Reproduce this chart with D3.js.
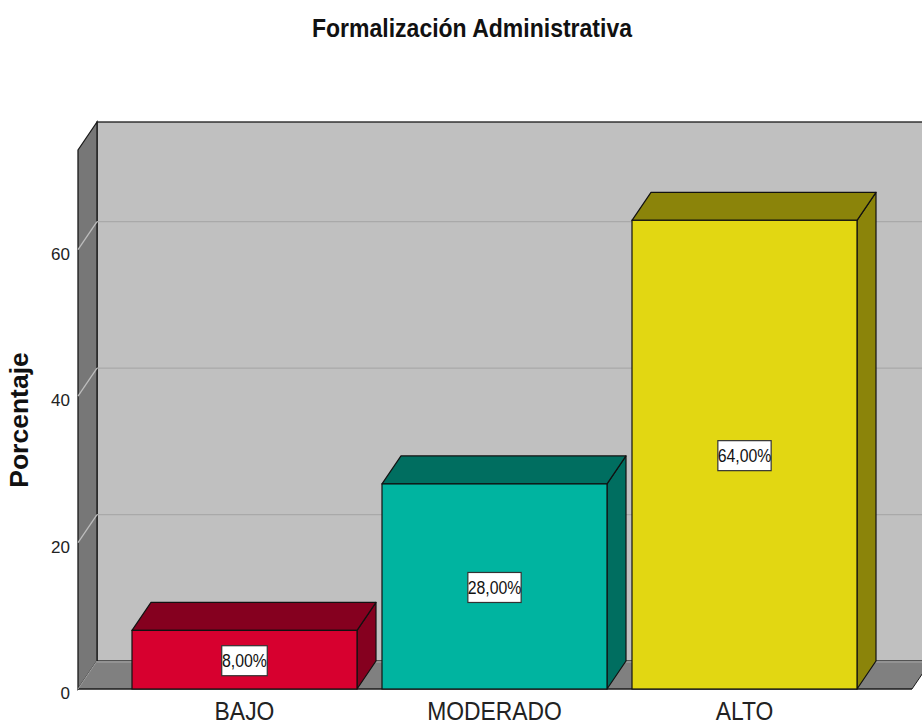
<!DOCTYPE html>
<html>
<head>
<meta charset="utf-8">
<script src="https://cdn.jsdelivr.net/npm/d3@7"></script>
<style>
  body { margin: 0; background: #fff; }
  text { font-family: "Liberation Sans", Arial, sans-serif; }
</style>
</head>
<body>
<div id="chart"></div>
<script>
var categories = ['BAJO', 'MODERADO', 'ALTO'];
var percentages = [8, 28, 64];
var valueLabels = ['8,00%', '28,00%', '64,00%'];
var tickValues = [0, 20, 40, 60];

var frontColors = ['#d7002f', '#00b4a0', '#e2d712'];
var topColors = ['#85001f', '#006e60', '#8b840a'];

var svgWidth = 922;
var svgHeight = 728;

// 3d depth offset of the back plane
var dx = 19, dy = -28;

var plotLeft = 78, plotRight = 912;
var plotTop = 150, plotBottom = 689;

var svg = d3.select('#chart')
            .append('svg')
            .attr('width', svgWidth)
            .attr('height', svgHeight);

var yScale = d3.scaleLinear()
               .domain([0, 73.6])
               .range([plotBottom, plotTop]);

var xScale = d3.scaleBand()
               .domain(categories)
               .range([107, 882])
               .padding(0.1);

// squeeze text horizontally to match the reference font width
function squeeze(sel, factor) {
    sel.each(function() {
        var len = this.getComputedTextLength();
        d3.select(this)
          .attr('textLength', len * factor)
          .attr('lengthAdjust', 'spacingAndGlyphs');
    });
}

// back wall
svg.append('rect')
   .attr('x', plotLeft + dx)
   .attr('y', plotTop + dy)
   .attr('width', plotRight - plotLeft + 10)
   .attr('height', plotBottom - plotTop)
   .attr('fill', '#c0c0c0')
   .attr('stroke', '#1a1a1a')
   .attr('stroke-width', 1.3);

// left side wall
svg.append('polygon')
   .attr('points', [[plotLeft, plotTop], [plotLeft + dx, plotTop + dy],
                    [plotLeft + dx, plotBottom + dy], [plotLeft, plotBottom]].join(' '))
   .attr('fill', '#777777')
   .attr('stroke', '#1a1a1a')
   .attr('stroke-width', 1.3);

// gridlines on back wall and side wall
tickValues.forEach(function(v) {
    if (v === 0) return;
    svg.append('line')
       .attr('x1', plotLeft + dx).attr('x2', plotRight + dx + 20)
       .attr('y1', yScale(v) + dy).attr('y2', yScale(v) + dy)
       .attr('stroke', '#a9a9a9').attr('stroke-width', 1.2);
    svg.append('line')
       .attr('x1', plotLeft).attr('x2', plotLeft + dx)
       .attr('y1', yScale(v)).attr('y2', yScale(v) + dy)
       .attr('stroke', '#bdbdbd').attr('stroke-width', 1.3);
});

// floor
svg.append('polygon')
   .attr('points', [[plotLeft, plotBottom], [plotLeft + dx, plotBottom + dy],
                    [plotRight + dx, plotBottom + dy], [plotRight, plotBottom]].join(' '))
   .attr('fill', '#808080');
svg.append('line')
   .attr('x1', plotLeft + dx).attr('x2', plotRight + dx + 20)
   .attr('y1', plotBottom + dy + 1).attr('y2', plotBottom + dy + 1)
   .attr('stroke', '#9a9a9a').attr('stroke-width', 1.5);
svg.append('line')
   .attr('x1', plotLeft).attr('x2', plotRight)
   .attr('y1', plotBottom).attr('y2', plotBottom)
   .attr('stroke', '#1a1a1a').attr('stroke-width', 1.3);
svg.append('line')
   .attr('x1', plotLeft).attr('x2', plotLeft + dx)
   .attr('y1', plotBottom).attr('y2', plotBottom + dy)
   .attr('stroke', '#a0a0a0').attr('stroke-width', 1);
svg.append('line')
   .attr('x1', plotRight).attr('x2', plotRight + dx)
   .attr('y1', plotBottom).attr('y2', plotBottom + dy)
   .attr('stroke', '#1a1a1a').attr('stroke-width', 1);

// bars
var w = xScale.bandwidth();
var bars = svg.selectAll('g.bar')
              .data(categories)
              .enter()
              .append('g')
              .attr('class', 'bar');

bars.append('polygon')
    .attr('points', function(d, i) {
        var x = xScale(d), yt = yScale(percentages[i]);
        return [[x + w, yt], [x + w + dx, yt + dy], [x + w + dx, plotBottom + dy], [x + w, plotBottom]].join(' ');
    })
    .attr('fill', (d, i) => topColors[i])
    .attr('stroke', '#111').attr('stroke-width', 1.2).attr('stroke-linejoin', 'round');

bars.append('polygon')
    .attr('points', function(d, i) {
        var x = xScale(d), yt = yScale(percentages[i]);
        return [[x, yt], [x + dx, yt + dy], [x + w + dx, yt + dy], [x + w, yt]].join(' ');
    })
    .attr('fill', (d, i) => topColors[i])
    .attr('stroke', '#111').attr('stroke-width', 1.2).attr('stroke-linejoin', 'round');

bars.append('rect')
    .attr('x', d => xScale(d))
    .attr('y', (d, i) => yScale(percentages[i]))
    .attr('width', w)
    .attr('height', (d, i) => plotBottom - yScale(percentages[i]))
    .attr('fill', (d, i) => frontColors[i])
    .attr('stroke', '#111').attr('stroke-width', 1.2);

// value labels
bars.each(function(d, i) {
    var g = d3.select(this);
    var cx = xScale(d) + w / 2;
    var cy = (yScale(percentages[i]) + plotBottom) / 2 + 1;
    var t = g.append('text')
             .attr('x', cx)
             .attr('y', cy)
             .attr('dy', '0.36em')
             .attr('text-anchor', 'middle')
             .attr('font-size', '18px')
             .attr('fill', '#111')
             .text(valueLabels[i]);
    squeeze(t, 0.88);
    var tw = t.node().getComputedTextLength() * 0.88;
    g.insert('rect', 'text')
     .attr('x', cx - tw / 2 - 3)
     .attr('y', cy - 15)
     .attr('width', tw + 6)
     .attr('height', 30)
     .attr('fill', '#fff')
     .attr('stroke', '#333')
     .attr('stroke-width', 1.2);
});

// y tick labels
svg.selectAll('text.tick')
   .data(tickValues)
   .enter()
   .append('text')
   .attr('class', 'tick')
   .attr('x', 70)
   .attr('y', d => yScale(d) + 4)
   .attr('dy', '0.36em')
   .attr('text-anchor', 'end')
   .attr('font-size', '17px')
   .attr('fill', '#222')
   .text(d => d);

// category labels
var catText = svg.selectAll('text.cat')
   .data(categories)
   .enter()
   .append('text')
   .attr('class', 'cat')
   .attr('x', d => xScale(d) + w / 2)
   .attr('y', 720)
   .attr('text-anchor', 'middle')
   .attr('font-size', '26px')
   .attr('fill', '#222')
   .text(d => d);
squeeze(catText, 0.88);

// title
var title = svg.append('text')
   .attr('x', 472)
   .attr('y', 37)
   .attr('text-anchor', 'middle')
   .attr('font-size', '25px')
   .attr('font-weight', 'bold')
   .attr('fill', '#111')
   .text('Formalización Administrativa');
squeeze(title, 0.92);

// y axis title
var yTitle = svg.append('text')
   .attr('transform', 'translate(28, 420) rotate(-90)')
   .attr('text-anchor', 'middle')
   .attr('font-size', '25px')
   .attr('font-weight', 'bold')
   .attr('fill', '#111')
   .text('Porcentaje');
squeeze(yTitle, 1.06);
</script>
</body>
</html>
